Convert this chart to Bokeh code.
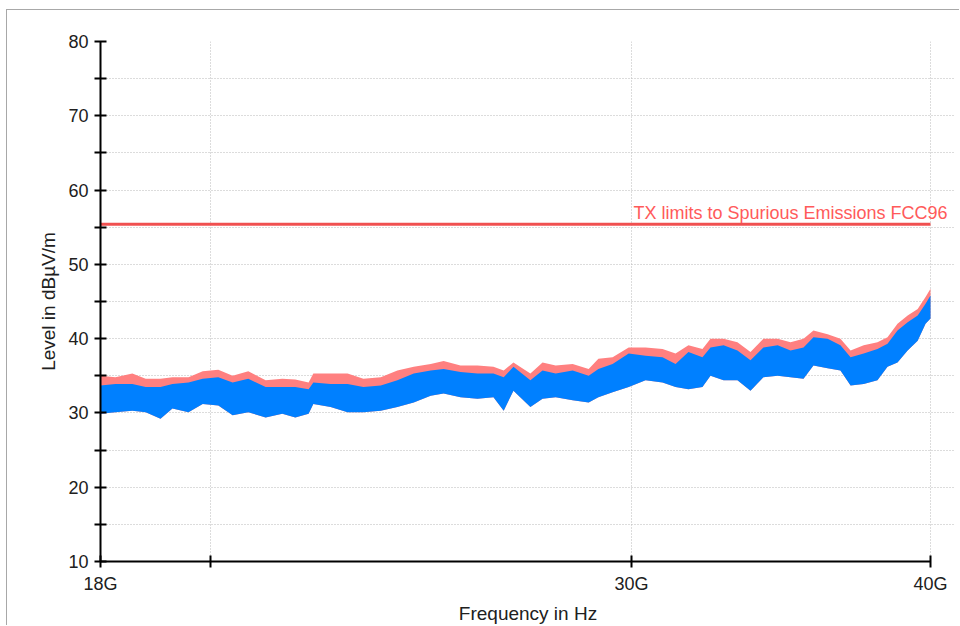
from bokeh.plotting import figure
from bokeh.models import Range1d, FixedTicker, ColumnDataSource, Label
from bokeh.embed import file_html
from bokeh.resources import INLINE

# ---- data ----
freq_ghz = [18.00, 18.26, 18.56, 18.80, 19.07, 19.29, 19.59, 19.86, 20.16, 20.44,
            20.75, 21.10, 21.44, 21.71, 21.99, 22.09, 22.46, 22.83, 23.18, 23.57,
            23.95, 24.33, 24.73, 25.04, 25.45, 25.87, 26.27, 26.53, 26.78, 27.22,
            27.54, 27.89, 28.35, 28.79, 29.06, 29.46, 29.92, 30.41, 30.91, 31.30,
            31.69, 32.12, 32.37, 32.78, 33.22, 33.64, 34.06, 34.53, 34.96, 35.40,
            35.74, 36.23, 36.68, 37.04, 37.51, 38.01, 38.38, 38.75, 39.13, 39.51,
            39.81, 40.00]
pink_top = [35.0, 34.8, 35.3, 34.6, 34.6, 34.8, 34.8, 35.6, 35.8, 35.0,
            35.6, 34.4, 34.6, 34.5, 34.1, 35.3, 35.3, 35.3, 34.6, 34.8,
            35.7, 36.2, 36.6, 37.0, 36.4, 36.4, 36.2, 35.7, 36.8, 35.3,
            36.8, 36.4, 36.6, 35.9, 37.3, 37.5, 38.8, 38.8, 38.6, 38.0,
            39.1, 38.6, 40.0, 40.0, 39.5, 38.2, 40.0, 40.0, 39.5, 40.0,
            41.1, 40.6, 40.0, 38.4, 39.1, 39.5, 40.2, 42.0, 43.1, 44.0,
            45.6, 46.7]
blue_top = [33.7, 33.9, 33.9, 33.5, 33.5, 33.9, 34.1, 34.6, 34.8, 34.1,
            34.6, 33.5, 33.5, 33.5, 33.2, 34.1, 33.9, 33.9, 33.5, 33.7,
            34.4, 35.3, 35.7, 35.9, 35.5, 35.3, 35.3, 34.8, 36.2, 34.4,
            35.7, 35.3, 35.7, 35.0, 35.9, 36.6, 38.0, 37.7, 37.5, 36.6,
            38.2, 37.5, 38.8, 39.1, 38.4, 37.1, 38.8, 39.1, 38.4, 38.8,
            40.2, 40.0, 39.1, 37.5, 38.0, 38.6, 39.3, 41.1, 42.2, 43.1,
            44.7, 45.8]
blue_bottom = [29.9, 30.1, 30.3, 30.1, 29.2, 30.6, 30.1, 31.2, 31.0, 29.7,
               30.1, 29.4, 29.9, 29.4, 29.9, 31.2, 30.8, 30.1, 30.1, 30.3,
               30.8, 31.4, 32.3, 32.6, 32.1, 31.9, 32.1, 30.3, 33.0, 30.8,
               31.9, 32.1, 31.7, 31.4, 32.1, 32.8, 33.5, 34.4, 34.1, 33.5,
               33.2, 33.5, 35.0, 34.4, 34.4, 33.0, 34.8, 35.0, 34.8, 34.6,
               36.4, 36.0, 35.7, 33.7, 33.9, 34.4, 36.2, 36.8, 38.4, 39.7,
               42.0, 42.7]

limit_freq = [18.0, 40.0]
limit_level = [55.4, 55.4]
limit_label = "TX limits to Spurious Emissions FCC96"

x_start, x_end = 18.0, 40.0
x_major = [18, 30, 40]
x_minor = [20]
x_labels = {18: "18G", 30: "30G", 40: "40G"}
y_major = [10, 20, 30, 40, 50, 60, 70, 80]
y_minor = [15, 25, 35, 45, 55, 65, 75]

FONT = "Liberation Sans"

# the frame is widened a little past 40 GHz so that the limit label,
# which runs past the end of the axis, is not clipped
frame_px, axis_px = 855, 830
view_end = x_start * (x_end / x_start) ** (frame_px / axis_px)

p = figure(width=953, height=616, x_axis_type="log",
           x_range=Range1d(x_start, view_end), y_range=Range1d(10, 80),
           output_backend="svg", toolbar_location=None,
           min_border_left=93, min_border_right=5,
           min_border_top=31, min_border_bottom=65,
           background_fill_color="white", border_fill_color="white")
p.outline_line_color = None
p.styles = {"border-left": "1px solid #a8a8a8", "border-top": "1px solid #a8a8a8",
            "margin-left": "6px", "margin-top": "9px"}

src = ColumnDataSource(dict(f=freq_ghz, pk=pink_top, bt=blue_top, bb=blue_bottom))
p.varea(x="f", y1="bb", y2="pk", source=src, fill_color="#ff8080")
p.varea(x="f", y1="bb", y2="bt", source=src, fill_color="#0080ff")

p.line(x=limit_freq, y=limit_level, line_color="#f05050", line_width=3)
p.add_layout(Label(x=limit_freq[1], y=limit_level[1], text=limit_label,
                   text_align="right", text_baseline="alphabetic",
                   x_offset=17, y_offset=11, text_color="#ff5a5a",
                   text_font=FONT, text_font_size="18px"))

# axes
p.xaxis.ticker = FixedTicker(ticks=x_major, minor_ticks=x_minor)
p.xaxis.major_label_overrides = x_labels
p.xaxis.bounds = (x_start, x_end)
p.xgrid.bounds = (x_start, x_end)
p.yaxis.ticker = FixedTicker(ticks=y_major, minor_ticks=y_minor)
for ax in (p.xaxis, p.yaxis):
    ax.axis_line_color = "black"
    ax.axis_line_width = 2
    ax.major_tick_line_color = "black"
    ax.major_tick_line_width = 2
    ax.minor_tick_line_color = "black"
    ax.minor_tick_line_width = 2
    ax.major_tick_in = 6
    ax.major_tick_out = 6
    ax.minor_tick_in = 6
    ax.minor_tick_out = 6
    ax.major_label_text_font = FONT
    ax.major_label_text_font_size = "18px"
    ax.major_label_text_color = "#202020"
    ax.axis_label_text_font = FONT
    ax.axis_label_text_font_size = "19px"
    ax.axis_label_text_font_style = "normal"
    ax.axis_label_text_color = "#202020"
p.xaxis.axis_label = "Frequency in Hz"
p.yaxis.axis_label = "Level in dBµV/m"
p.xaxis.major_label_standoff = 6
p.xaxis.axis_label_standoff = 6
p.yaxis.major_label_standoff = 6
p.yaxis.axis_label_standoff = 6

for g in (p.xgrid, p.ygrid):
    g.grid_line_color = "#b8b8b8"
    g.grid_line_dash = "1 2"
    g.grid_line_width = 1
    g.minor_grid_line_color = "#b8b8b8"
    g.minor_grid_line_dash = "1 2"
    g.minor_grid_line_width = 1
p.ygrid.bounds = (10, 80)

open("out.html", "w").write(file_html(p, INLINE))
